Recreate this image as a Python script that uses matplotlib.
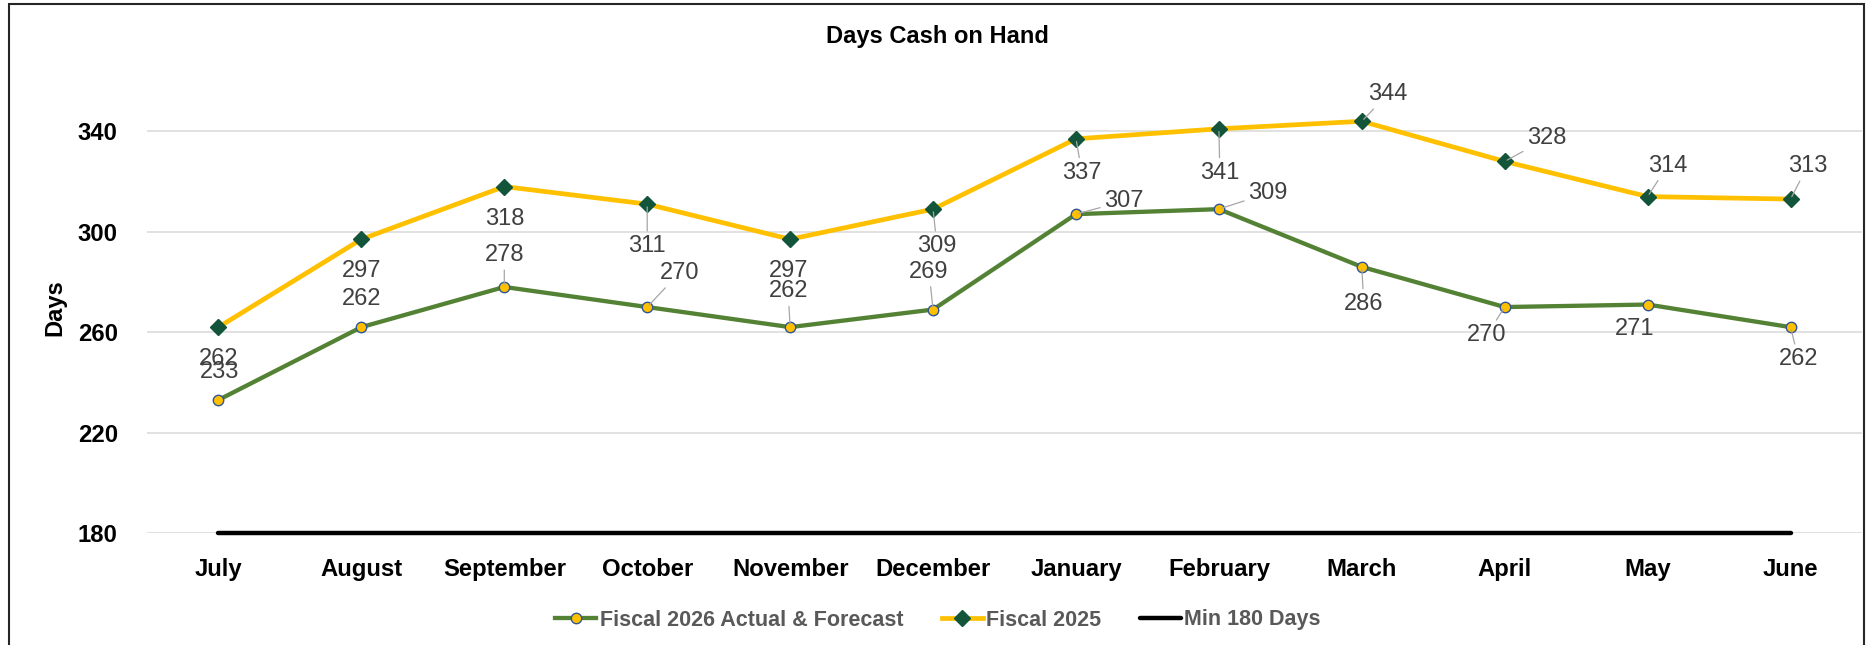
import matplotlib
matplotlib.use("Agg")
import matplotlib.pyplot as plt
from matplotlib.patches import Rectangle

plt.rcParams['font.family'] = ['Liberation Sans', 'DejaVu Sans']

# Chart data
months = ["July", "August", "September", "October", "November", "December",
          "January", "February", "March", "April", "May", "June"]
fy26 = [233, 262, 278, 270, 262, 269, 307, 309, 286, 270, 271, 262]
fy25 = [262, 297, 318, 311, 297, 309, 337, 341, 344, 328, 314, 313]
min_days = [180] * 12
y_ticks = [180, 220, 260, 300, 340]

# label offsets (pixels, y down) and whether a leader line is drawn
fy25_offsets = [(0, 32), (0, 32), (0, 32), (0, 42), (-2, 32), (4, 37),
                (6, 34), (1, 44), (26, -27), (42, -23), (20, -31), (17, -33)]
fy25_leader = [False, False, False, True, False, True,
               True, True, True, True, True, True]
fy26_offsets = [(1, -28), (0, -28), (0, -32), (32, -34), (-2, -36), (-4, -38),
                (48, -13), (49, -16), (2, 37), (-18, 28), (-13, 24), (8, 32)]
fy26_leader = [False, False, True, True, True, True,
               True, True, True, True, False, True]

fig = plt.figure(figsize=(18.7, 6.45), dpi=100)
ax = fig.add_axes([147 / 1870, 112 / 645, 1715 / 1870, 477 / 645])

x = list(range(len(months)))
ax.plot(x, min_days, color="black", lw=3.2, solid_capstyle="round",
        clip_on=False, zorder=3, label="Min 180 Days")
ax.plot(x, fy26, color="#548235", lw=3.1, marker="o", markersize=7.5,
        markerfacecolor="#FFC000", markeredgecolor="#2F5597", markeredgewidth=1,
        clip_on=False, zorder=4, label="Fiscal 2026 Actual & Forecast")
ax.plot(x, fy25, color="#FFC000", lw=3.4, marker="D", markersize=8.5,
        markerfacecolor="#13553A", markeredgecolor="#13553A",
        clip_on=False, zorder=5, label="Fiscal 2025")

def add_labels(vals, offsets, leaders):
    for i, v in enumerate(vals):
        dx, dy = offsets[i]
        props = None
        if leaders[i]:
            props = dict(arrowstyle="-", color="#A6A6A6", lw=0.9, shrinkA=1, shrinkB=2)
        ax.annotate(str(v), (i, v), xytext=(dx * 0.72, -dy * 0.72),
                    textcoords="offset points", ha="center", va="center",
                    fontsize=17, color="#404040", arrowprops=props,
                    annotation_clip=False, zorder=6)

add_labels(fy25, fy25_offsets, fy25_leader)
add_labels(fy26, fy26_offsets, fy26_leader)

ax.set_xlim(-0.5, len(months) - 0.5)
ax.set_ylim(180, 370)
ax.set_yticks(y_ticks)
ax.set_xticks(x)
ax.set_xticklabels(months, fontsize=17.2, fontweight="bold")
ax.set_yticklabels([str(t) for t in y_ticks], fontsize=17.2, fontweight="bold")
ax.tick_params(axis="both", length=0)
ax.tick_params(axis="y", pad=21)
ax.tick_params(axis="x", pad=18)
ax.grid(axis="y", color="#D9D9D9", lw=1.1)
ax.set_axisbelow(True)
for s in ax.spines.values():
    s.set_visible(False)

ax.set_ylabel("Days", fontsize=17, fontweight="bold")
ax.yaxis.set_label_coords(-0.047, 0.472)

fig.text(937 / 1870, 1 - 37 / 645, "Days Cash on Hand", ha="center", va="center",
         fontsize=17, fontweight="bold")

handles, labels = ax.get_legend_handles_labels()
order = [1, 2, 0]
leg = fig.legend([handles[i] for i in order], [labels[i] for i in order],
                 loc="center", bbox_to_anchor=(938 / 1870, 1 - 620 / 645),
                 ncol=3, frameon=False, handlelength=1.9,
                 handletextpad=0.15, columnspacing=1.8,
                 prop={"weight": "bold", "size": 15.5})
for t in leg.get_texts():
    t.set_color("#595959")

# outer chart border
fig.patches.append(Rectangle((9 / 1870, -0.02), 1855 / 1870, 1.02 - 4 / 645,
                             transform=fig.transFigure, fill=False,
                             edgecolor="#262626", lw=1.5))

fig.savefig("out.png", dpi=100)
